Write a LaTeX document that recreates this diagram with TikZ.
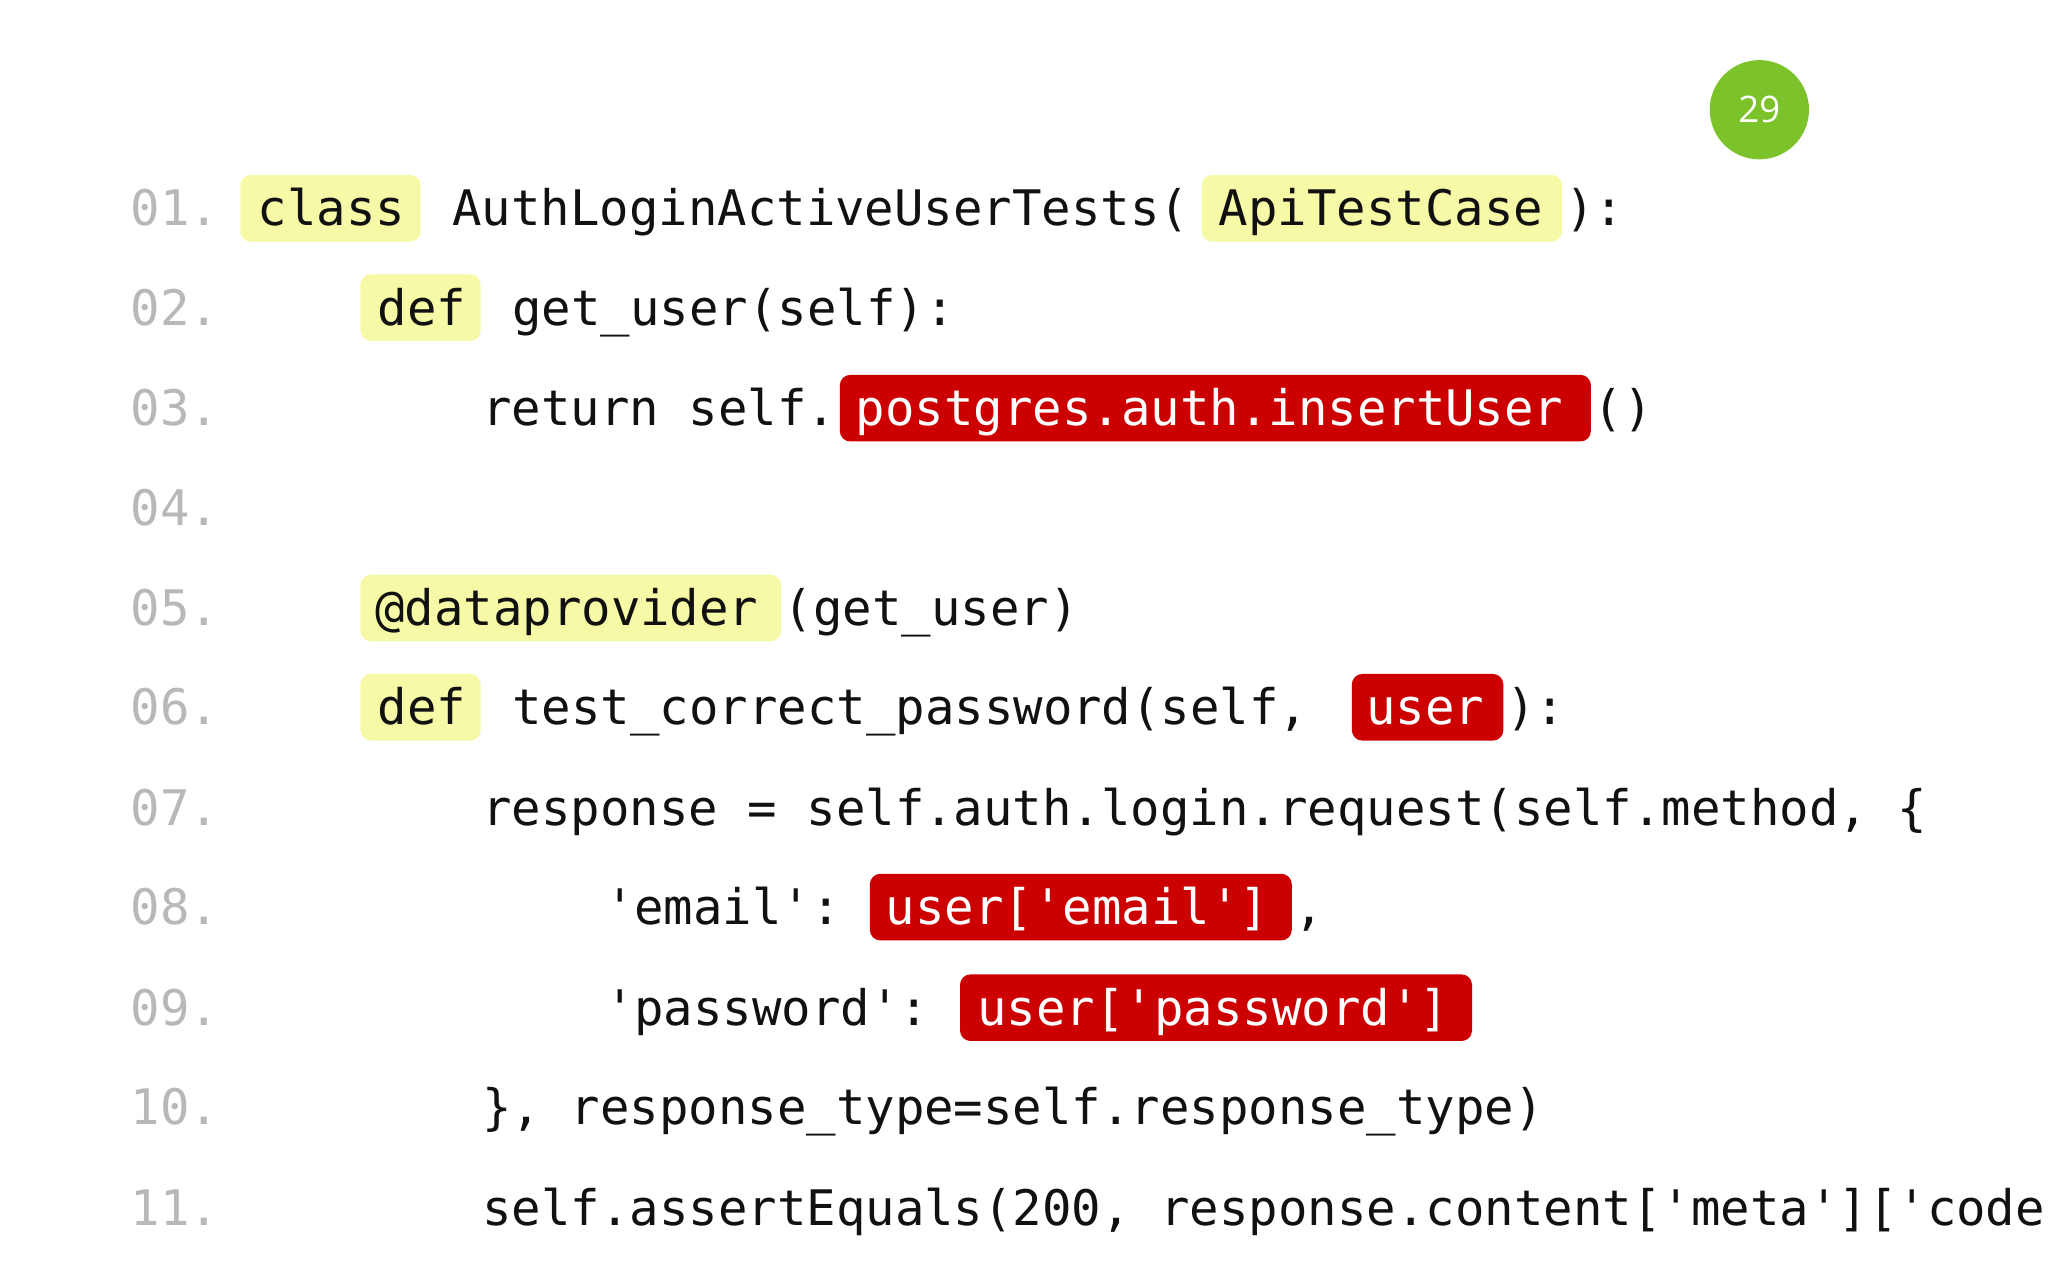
\documentclass[tikz,border=0pt]{standalone}
\usepackage{fontspec}
\setmonofont{DejaVu Sans Mono}
\setsansfont{Open Sans}
\definecolor{hly}{HTML}{F6FAA6}
\definecolor{hlr}{HTML}{CC0000}
\definecolor{lnum}{HTML}{B8B8B8}
\definecolor{txt}{HTML}{111111}
\definecolor{badge}{HTML}{7CC22A}
\begin{document}
\begin{tikzpicture}[x=1pt,y=-1pt,
  code/.style={anchor=base west,inner sep=0pt,font=\fontsize{37.5}{40}\selectfont\ttfamily,text=txt},
  wcode/.style={code,text=white},
  num/.style={code,text=lnum},
  ybox/.style={fill=hly,rounded corners=8pt},
  rbox/.style={fill=hlr,rounded corners=8pt}]
\useasboundingbox (0,0) rectangle (1568,980);
\clip (0,0) rectangle (1568,980);
\fill[white] (0,0) rectangle (1568,980);
\node[circle,fill=badge,minimum size=76pt,inner sep=0pt,text=white,font=\fontsize{28}{30}\selectfont\sffamily] (badge) at (1347,84) {29};
% highlights
\fill[ybox] (184,134) rectangle (322,185);
\fill[ybox] (920,134) rectangle (1196,185);
\fill[ybox] (276,210) rectangle (368,261);
\fill[rbox] (643,287) rectangle (1218,338);
\fill[ybox] (276,440) rectangle (598,491);
\fill[ybox] (276,516) rectangle (368,567);
\fill[rbox] (1035,516) rectangle (1151,567);
\fill[rbox] (666,669) rectangle (989,720);
\fill[rbox] (735,746) rectangle (1127,797);
% line numbers
\foreach \n/\y in {01/160,02/236,03/313,04/389,05/466,06/542,07/619,08/695,09/772,10/848,11/925}
  \node[num] (n\n) at (100,\y+13) {\n.};
% code
\node[code] (c1a) at (197,173) {class};
\node[code] (c1b) at (346,173) {AuthLoginActiveUserTests(};
\node[code] (c1c) at (933,173) {ApiTestCase};
\node[code] (c1d) at (1198,173) {):};
\node[code] (c2a) at (289,249) {def};
\node[code] (c2b) at (392,249) {get\_user(self):};
\node[code] (c3a) at (369,326) {return self.};
\node[wcode] (c3b) at (655,326) {postgres.auth.insertUser};
\node[code] (c3c) at (1220,326) {()};
\node[code] (c5a) at (287,479) {@dataprovider};
\node[code] (c5b) at (600,479) {(get\_user)};
\node[code] (c6a) at (289,555) {def};
\node[code] (c6b) at (392,555) {test\_correct\_password(self,};
\node[wcode] (c6c) at (1046,555) {user};
\node[code] (c6d) at (1153,555) {):};
\node[code] (c7) at (369,632) {response = self.auth.login.request(self.method, \{};
\node[code] (c8a) at (463,708) {'email':};
\node[wcode] (c8b) at (678,708) {user['email']};
\node[code] (c8c) at (991,708) {,};
\node[code] (c9a) at (463,785) {'password':};
\node[wcode] (c9b) at (748,785) {user['password']};
\node[code] (c10) at (369,861) {\}, response\_type=self.response\_type)};
\node[code] (c11) at (369,938) {self.assertEquals(200, response.content['meta']['code};
\end{tikzpicture}
\end{document}
